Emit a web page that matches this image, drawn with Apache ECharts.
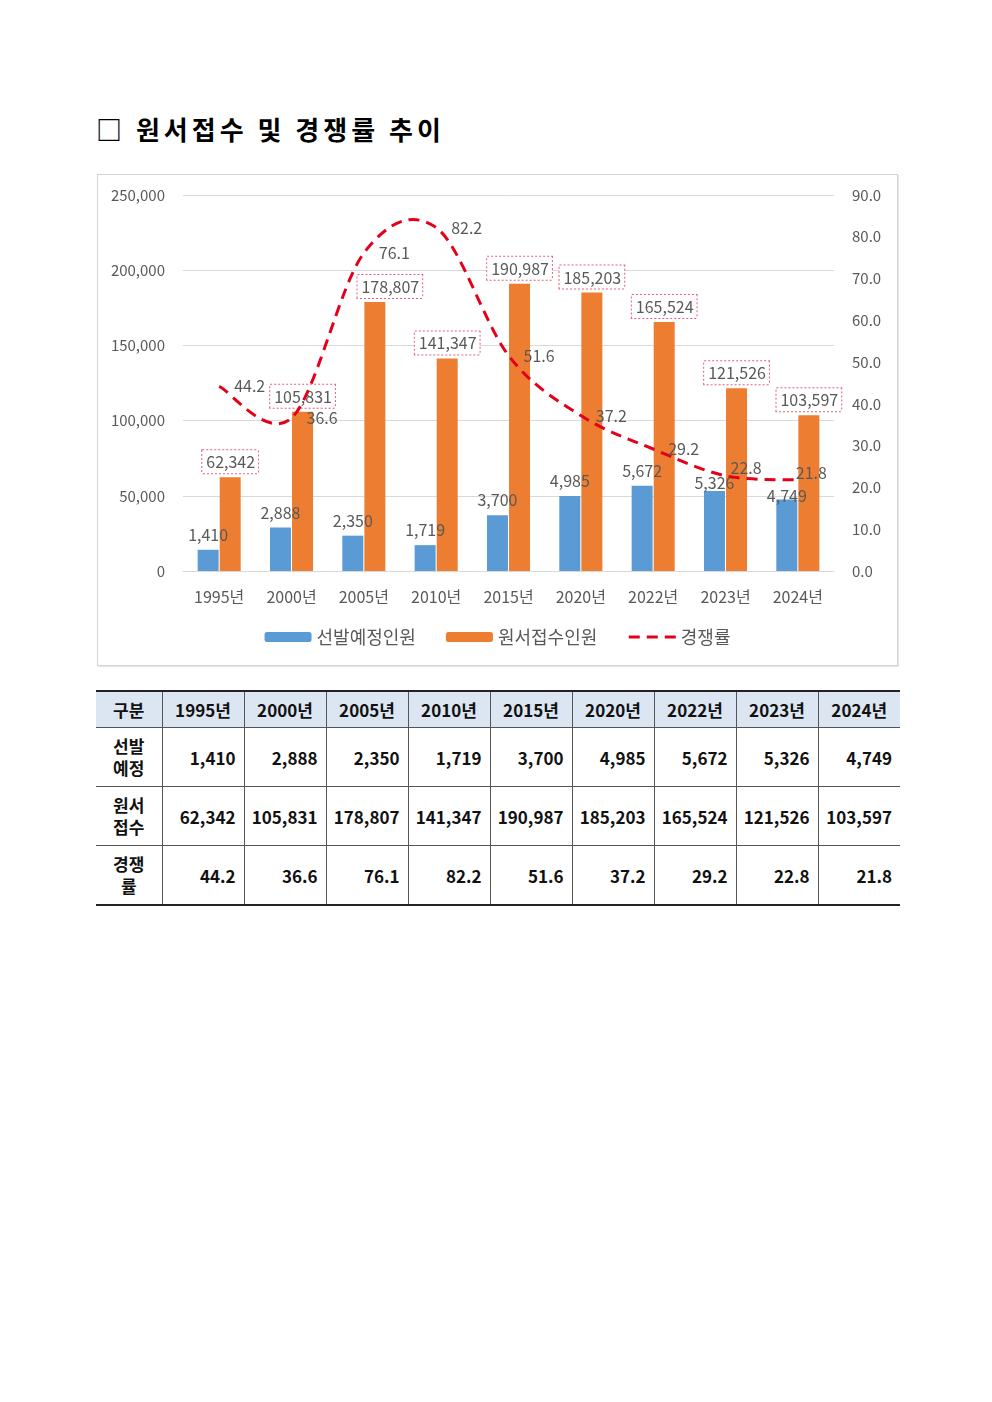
<!DOCTYPE html>
<html>
<head>
<meta charset="utf-8">
<script src="https://cdn.jsdelivr.net/npm/echarts@6/dist/echarts.min.js"></script>
<style>
  html, body { margin: 0; padding: 0; background: #fff; }
  body { width: 992px; height: 1402px; position: relative; font-family: "Noto Sans CJK KR", "Noto Sans", sans-serif; }
  #title { position: absolute; left: 96px; top: 110px; font-size: 26px; font-weight: bold; color: #000; letter-spacing: 4px; white-space: nowrap; }
  #chart { position: absolute; left: 97px; top: 174px; width: 799px; height: 490px; border: 1px solid #d4d4d4; box-shadow: 1px 1px 1px #e6e6e6; }
  #tbl { position: absolute; left: 96px; top: 690px; width: 804px; table-layout: fixed; border-collapse: collapse; font-weight: bold; font-size: 17px; color: #111; }
  #tbl td, #tbl th { border-left: 1px solid #555; border-right: 1px solid #555; border-bottom: 1px solid #555; padding: 0 8px 0 0; text-align: right; white-space: nowrap; }
  #tbl tr:first-child th { border-top: 2px solid #222; background: #dce6f2; height: 35px; text-align: center; padding: 0; }
  #tbl th.first, #tbl td.first { border-left: none; text-align: center; padding: 0; line-height: 22px; }
  #tbl th:last-child, #tbl td:last-child { border-right: none; }
  #tbl tr.data td { height: 58px; }
  #tbl tr:last-child td { border-bottom: 2px solid #222; }
</style>
</head>
<body>
<div id="title">□ 원서접수 및 경쟁률 추이</div>
<div id="chart"></div>
<table id="tbl"></table>
<script>
const categories = ['1995년', '2000년', '2005년', '2010년', '2015년', '2020년', '2022년', '2023년', '2024년'];
const planned = [1410, 2888, 2350, 1719, 3700, 4985, 5672, 5326, 4749];
const applied = [62342, 105831, 178807, 141347, 190987, 185203, 165524, 121526, 103597];
const ratio = [44.2, 36.6, 76.1, 82.2, 51.6, 37.2, 29.2, 22.8, 21.8];
const seriesNames = ['선발예정인원', '원서접수인원', '경쟁률'];
const rowLabels = ['선발<br>예정', '원서<br>접수', '경쟁<br>률'];
const headerLabel = '구분';

const fmt = v => v.toLocaleString('en-US');
const gray = '#595959';
const red = '#e3001b';
const dash = [11, 7];
const font = '"Noto Sans CJK KR", "Noto Sans", sans-serif';

// label adjustments (by index)
const plannedOffsets = {7: [0, 7], 8: [0, 11]};
const appliedOffsets = {2: [15, 0]};
const ratioOffsets = {7: [-10, -8], 8: [-17, -7]};

// Excel-style smoothed curve (Catmull-Rom) through the data points, mapped by the axes
function renderCurve(params, api) {
  if (params.dataIndex !== 0) return null;
  const pts = ratio.map((v, j) => api.coord([j, v]));
  const n = pts.length;
  let d = 'M' + pts[0][0] + ' ' + pts[0][1];
  for (let i = 0; i < n - 1; i++) {
    const p0 = pts[Math.max(i - 1, 0)], p1 = pts[i], p2 = pts[i + 1], p3 = pts[Math.min(i + 2, n - 1)];
    const c1x = p1[0] + (p2[0] - p0[0]) / 6, c1y = p1[1] + (p2[1] - p0[1]) / 6;
    const c2x = p2[0] - (p3[0] - p1[0]) / 6, c2y = p2[1] - (p3[1] - p1[1]) / 6;
    d += ' C' + c1x + ' ' + c1y + ' ' + c2x + ' ' + c2y + ' ' + p2[0] + ' ' + p2[1];
  }
  return { type: 'path', shape: { pathData: d },
    style: { fill: 'none', stroke: red, lineWidth: 3, lineDash: dash } };
}

const chart = echarts.init(document.getElementById('chart'));
chart.setOption({
  animation: false,
  textStyle: { fontFamily: font },
  grid: { left: 85, right: 63, top: 20, bottom: 94 },
  legend: {
    bottom: 14, left: 'center',
    itemWidth: 47, itemHeight: 10, itemGap: 30,
    textStyle: { color: gray, fontSize: 18, fontFamily: font },
    data: [
      { name: seriesNames[0] },
      { name: seriesNames[1] },
      { name: seriesNames[2], itemStyle: { opacity: 0 }, lineStyle: { color: red, width: 3, type: dash, opacity: 1 } }
    ]
  },
  xAxis: {
    type: 'category', data: categories,
    axisTick: { show: false },
    axisLine: { lineStyle: { color: '#d9d9d9' } },
    axisLabel: { color: gray, fontSize: 16, margin: 18 }
  },
  yAxis: [
    { type: 'value', min: 0, max: 250000, interval: 50000,
      axisLabel: { color: gray, fontSize: 15, margin: 18, formatter: v => fmt(v) },
      splitLine: { lineStyle: { color: '#d9d9d9' } },
      axisLine: { show: false }, axisTick: { show: false } },
    { type: 'value', min: 0, max: 90, interval: 10, position: 'right',
      axisLabel: { color: gray, fontSize: 15, margin: 18, formatter: v => v.toFixed(1) },
      splitLine: { show: false }, axisLine: { show: false }, axisTick: { show: false } },
    { type: 'value', min: 0, max: 25000, show: false, splitLine: { show: false } }
  ],
  series: [
    { name: seriesNames[0], type: 'bar', yAxisIndex: 2, barWidth: 21, barGap: '5%',
      itemStyle: { color: '#5b9bd5' },
      data: planned.map((v, i) => ({ value: v, label: plannedOffsets[i] ? { offset: plannedOffsets[i] } : undefined })),
      label: { show: true, position: 'top', distance: 7, color: gray, fontSize: 16, formatter: p => fmt(p.value) } },
    { name: seriesNames[1], type: 'bar', yAxisIndex: 0, barWidth: 21,
      itemStyle: { color: '#ed7d31' },
      data: applied.map((v, i) => ({ value: v, label: appliedOffsets[i] ? { offset: appliedOffsets[i] } : undefined })),
      label: { show: true, position: 'top', distance: 4, color: gray, fontSize: 16,
        backgroundColor: '#fff', borderColor: '#e0607a', borderWidth: 1, borderType: 'dotted',
        padding: [4, 3, 3, 4], formatter: p => fmt(p.value) } },
    { name: seriesNames[2], type: 'line', yAxisIndex: 1, smooth: false, symbol: 'circle', symbolSize: 2, showSymbol: true,
      lineStyle: { color: red, width: 3, type: dash, opacity: 0 },
      itemStyle: { color: 'rgba(0,0,0,0)' },
      z: 4,
      data: ratio.map((v, i) => ({ value: v, label: ratioOffsets[i] ? { offset: ratioOffsets[i] } : undefined })),
      label: { show: true, position: 'right', distance: 14, color: gray, fontSize: 16, formatter: p => p.value.toFixed(1) } },
    { name: '경쟁률곡선', type: 'custom', yAxisIndex: 1, z: 3, silent: true,
      renderItem: renderCurve,
      encode: { x: 0, y: 1 },
      data: ratio.map((v, i) => [i, v]) }
  ]
});

// table
const tbl = document.getElementById('tbl');
let html = '<colgroup><col style="width:66px">' + categories.map(() => '<col style="width:82px">').join('') + '</colgroup>';
html += '<tr><th class="first">' + headerLabel + '</th>' + categories.map(c => '<th>' + c + '</th>').join('') + '</tr>';
const rows = [planned.map(fmt), applied.map(fmt), ratio.map(v => v.toFixed(1))];
rows.forEach((r, k) => {
  html += '<tr class="data"><td class="first">' + rowLabels[k] + '</td>' + r.map(v => '<td>' + v + '</td>').join('') + '</tr>';
});
tbl.innerHTML = html;
</script>
</body>
</html>
